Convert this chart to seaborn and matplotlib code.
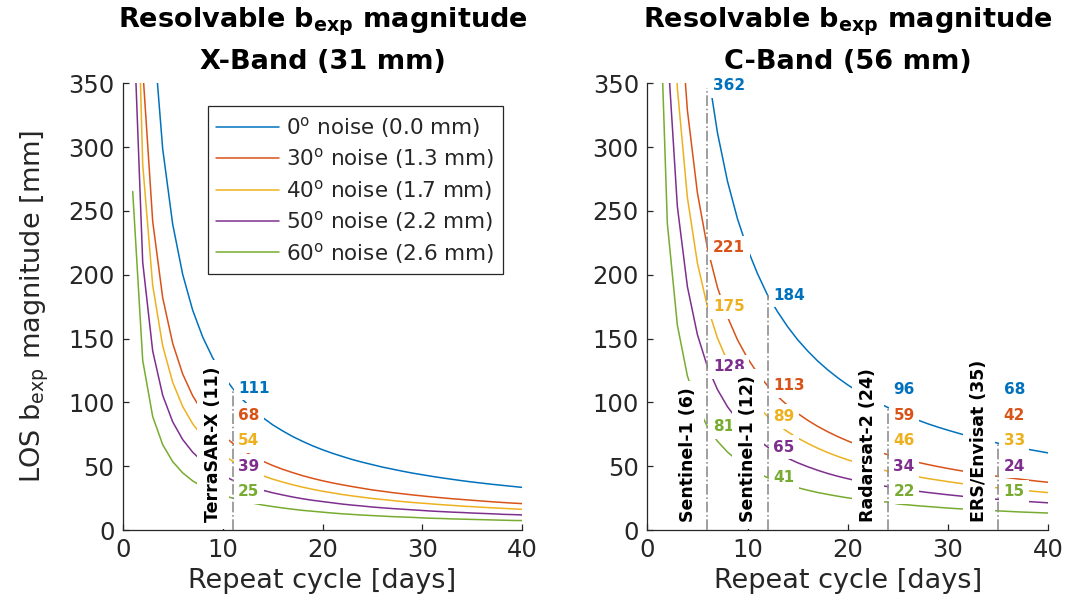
import matplotlib
matplotlib.use("Agg")
import matplotlib.pyplot as plt
import pandas as pd
import seaborn as sns

# Repeat cycle in days
days = list(range(1, 41))

# X-band (31 mm) resolvable b_exp magnitude [mm], one list per phase-noise level
xband_0 = [1182.6, 593.3, 396.9, 298.7, 239.7, 200.4, 172.3, 151.3, 135.0, 121.8,
           111.0, 102.2, 94.7, 88.2, 82.5, 77.7, 73.3, 69.5, 66.0, 62.9,
           60.1, 57.6, 55.2, 53.1, 51.2, 49.3, 47.7, 46.1, 44.6, 43.3,
           42.0, 40.8, 39.7, 38.6, 37.6, 36.7, 35.8, 35.0, 34.2, 33.4]
xband_30 = [720.2, 361.5, 241.9, 182.1, 146.3, 122.3, 105.2, 92.5, 82.5, 74.5,
            68.0, 62.6, 58.0, 54.0, 50.6, 47.6, 45.0, 42.6, 40.5, 38.6,
            36.9, 35.4, 34.0, 32.7, 31.4, 30.4, 29.3, 28.4, 27.5, 26.7,
            25.9, 25.2, 24.5, 23.9, 23.3, 22.7, 22.1, 21.6, 21.1, 20.7]
xband_40 = [571.1, 286.5, 191.7, 144.3, 115.8, 96.8, 83.3, 73.1, 65.2, 58.9,
            54.0, 49.4, 45.8, 42.6, 39.9, 37.6, 35.5, 33.6, 31.9, 30.4,
            29.1, 27.8, 26.7, 25.7, 24.7, 23.9, 23.1, 22.3, 21.6, 21.0,
            20.4, 19.8, 19.3, 18.7, 18.3, 17.8, 17.4, 17.0, 16.6, 16.2]
xband_50 = [418.2, 209.8, 140.3, 105.6, 84.8, 70.9, 61.0, 53.5, 47.7, 43.1,
            39.0, 36.0, 33.4, 31.2, 29.2, 27.5, 25.9, 24.5, 23.3, 22.3,
            21.3, 20.3, 19.5, 18.8, 18.0, 17.4, 16.8, 16.3, 15.8, 15.3,
            14.8, 14.4, 14.0, 13.7, 13.3, 13.0, 12.7, 12.3, 12.1, 11.8]
xband_60 = [265.3, 133.0, 88.9, 66.9, 53.6, 44.8, 38.5, 33.8, 30.1, 27.2,
            25.0, 22.7, 21.1, 19.6, 18.4, 17.3, 16.3, 15.4, 14.7, 14.0,
            13.3, 12.7, 12.2, 11.7, 11.3, 10.9, 10.5, 10.2, 9.9, 9.5,
            9.2, 9.0, 8.7, 8.5, 8.3, 8.1, 7.9, 7.7, 7.5, 7.4]

# C-band (56 mm) resolvable b_exp magnitude [mm]
cband_0 = [2136.2, 1071.7, 716.9, 539.5, 433.0, 362.0, 311.3, 273.3, 243.8, 220.1,
           200.8, 184.0, 171.0, 159.3, 149.1, 140.3, 132.4, 125.5, 119.3, 113.7,
           108.6, 104.0, 99.8, 96.0, 92.4, 89.1, 86.1, 83.2, 80.6, 78.2,
           75.9, 73.7, 71.7, 69.8, 68.0, 66.3, 64.7, 63.2, 61.8, 60.4]
cband_30 = [1301.0, 653.0, 437.0, 329.0, 264.2, 221.0, 190.1, 167.0, 149.0, 134.6,
            122.8, 113.0, 104.7, 97.6, 91.4, 86.0, 81.2, 77.0, 73.2, 69.8,
            66.7, 63.9, 61.4, 59.0, 56.8, 54.9, 53.0, 51.3, 49.7, 48.2,
            46.8, 45.5, 44.3, 43.1, 42.0, 41.0, 40.0, 39.1, 38.2, 37.4]
cband_40 = [1031.6, 517.6, 346.3, 260.6, 209.2, 175.0, 150.5, 132.1, 117.8, 106.4,
            97.1, 89.0, 82.7, 77.0, 72.1, 67.9, 64.1, 60.7, 57.7, 55.0,
            52.6, 50.3, 48.3, 46.0, 44.7, 43.1, 41.7, 40.3, 39.1, 37.9,
            36.8, 35.7, 34.8, 33.8, 33.0, 32.2, 31.4, 30.7, 30.0, 29.3]
cband_50 = [755.5, 379.0, 253.5, 190.8, 153.1, 128.0, 110.1, 96.6, 86.2, 77.8,
            71.0, 65.0, 60.4, 56.3, 52.7, 49.6, 46.8, 44.3, 42.1, 40.2,
            38.4, 36.7, 35.2, 34.0, 32.6, 31.5, 30.4, 29.4, 28.5, 27.6,
            26.8, 26.0, 25.3, 24.7, 24.0, 23.4, 22.9, 22.3, 21.8, 21.3]
cband_60 = [479.3, 240.3, 160.6, 120.8, 96.9, 81.0, 69.6, 61.1, 54.4, 49.1,
            44.8, 41.0, 38.1, 35.4, 33.2, 31.2, 29.4, 27.9, 26.5, 25.2,
            24.1, 23.0, 22.1, 22.0, 20.4, 19.7, 19.0, 18.4, 17.8, 17.2,
            16.7, 16.2, 15.8, 15.4, 15.0, 14.6, 14.2, 13.9, 13.6, 13.3]

noise_labels = ["0$^{\\mathrm{o}}$ noise (0.0 mm)",
                "30$^{\\mathrm{o}}$ noise (1.3 mm)",
                "40$^{\\mathrm{o}}$ noise (1.7 mm)",
                "50$^{\\mathrm{o}}$ noise (2.2 mm)",
                "60$^{\\mathrm{o}}$ noise (2.6 mm)"]
colors = ["#0072BD", "#D95319", "#EDB120", "#7E2F8E", "#77AC30"]

xband_missions = ["TerraSAR-X"]
xband_cycles = [11]
cband_missions = ["Sentinel-1", "Sentinel-1", "Radarsat-2", "ERS/Envisat"]
cband_cycles = [6, 12, 24, 35]

# Minimum heights for the value labels next to each mission line
label_slots = [110, 90, 70, 50, 30]

xband_series = [xband_0, xband_30, xband_40, xband_50, xband_60]
cband_series = [cband_0, cband_30, cband_40, cband_50, cband_60]

rows = []
for band, series in (("X", xband_series), ("C", cband_series)):
    for lab, vals in zip(noise_labels, series):
        for d, v in zip(days, vals):
            rows.append({"band": band, "noise": lab, "day": d, "value": v})
df = pd.DataFrame(rows)

sns.set_theme(style="ticks")
plt.rcParams["font.family"] = ["DejaVu Sans"]
plt.rcParams["mathtext.fontset"] = "dejavusans"

AX_COL = "#262626"
fig = plt.figure(figsize=(10.69, 5.97), dpi=100)
ax1 = fig.add_axes([0.1148, 0.1122, 0.3738, 0.7482])
ax2 = fig.add_axes([0.6055, 0.1122, 0.3751, 0.7482])

panels = [
    (ax1, "X", "X-Band (31 mm)", xband_series, xband_missions, xband_cycles),
    (ax2, "C", "C-Band (56 mm)", cband_series, cband_missions, cband_cycles),
]

num_box = dict(boxstyle="square,pad=0.3", fc="white", ec="none")
name_box = dict(boxstyle="square,pad=0.4", fc="white", ec="none")

for ax, band, subtitle, series, missions, cycles in panels:
    sns.lineplot(data=df[df["band"] == band], x="day", y="value", hue="noise",
                 hue_order=noise_labels, palette=colors, estimator=None,
                 linewidth=1.1, ax=ax, legend=(band == "X"), zorder=2)

    for name, t in zip(missions, cycles):
        vals = [s[days.index(t)] for s in series]
        ax.plot([t, t], [0, min(vals[0], 346)], color="#8f8f8f", ls="-.",
                lw=1.2, zorder=5)
        ax.text(t - 1.05, 6, f"{name} ({t})", rotation=90, ha="right",
                va="bottom", fontsize=12.5, fontweight="bold", color="black",
                bbox=name_box, zorder=4)
        for v, slot, c in zip(vals, label_slots, colors):
            y = min(max(v, slot), 348)
            ax.text(t + 0.55, y, f"{v:.0f}", color=c, ha="left", va="center",
                    fontsize=11, fontweight="bold", bbox=num_box, zorder=4,
                    clip_on=False)

    ax.set_xlim(0, 40)
    ax.set_ylim(0, 350)
    ax.set_xticks([0, 10, 20, 30, 40])
    ax.set_yticks(range(0, 351, 50))
    ax.tick_params(direction="in", length=4, width=0.9, colors=AX_COL,
                   labelsize=17.5, pad=6)
    for side in ("top", "right"):
        ax.spines[side].set_visible(False)
    for side in ("left", "bottom"):
        ax.spines[side].set_color(AX_COL)
        ax.spines[side].set_linewidth(0.9)
    ax.set_xlabel("Repeat cycle [days]", fontsize=19.5, color=AX_COL, labelpad=4)
    ax.set_ylabel("")
    ax.set_title("Resolvable $\\mathbf{b}_\\mathbf{exp}$ magnitude\n" + subtitle,
                 fontsize=19.5, fontweight="bold", color="black", pad=10,
                 linespacing=1.55)

ax1.set_ylabel("LOS b$_{\\mathrm{exp}}$ magnitude [mm]", fontsize=19.5,
               color=AX_COL, labelpad=12)

handles, labels = ax1.get_legend_handles_labels()
leg = ax1.legend(handles, labels, loc="upper right",
                 bbox_to_anchor=(0.9517, 0.949), borderaxespad=0,
                 fontsize=15.5, frameon=True, fancybox=False, framealpha=1,
                 edgecolor=AX_COL, handlelength=2.9, handletextpad=0.35,
                 labelspacing=0.3, borderpad=0.4)
leg.get_frame().set_linewidth(0.9)
leg.set_zorder(6)

fig.savefig("out.png", dpi=100, facecolor="white")
